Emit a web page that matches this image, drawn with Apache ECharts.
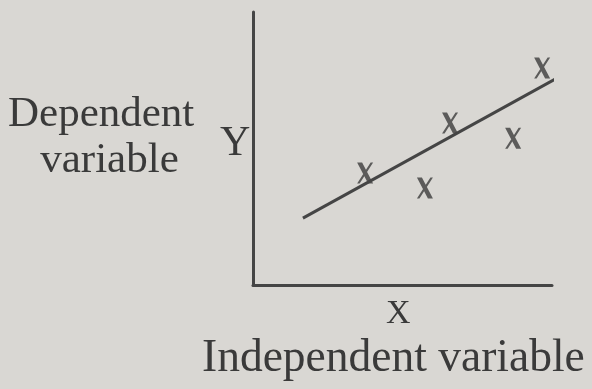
<!DOCTYPE html>
<html>
<head>
<meta charset="utf-8">
<script src="https://cdn.jsdelivr.net/npm/echarts@6/dist/echarts.min.js"></script>
<style>
  html, body { margin: 0; padding: 0; background: #d9d7d3; }
  #main { width: 592px; height: 389px; }
</style>
</head>
<body>
<div id="main"></div>
<script>
const pointX = [37.5, 57.5, 65.9, 87.0, 96.7]
const pointY = [41.0, 35.5, 59.3, 53.8, 79.5]
// fitted line end points
const lineX = [16.7, 102.3]
const lineY = [24.5, 76.2]

const ink = '#454545'
const font = '"Liberation Serif", "DejaVu Serif", serif'

const myChart = echarts.init(document.getElementById('main'))

const options = {
  backgroundColor: '#d9d7d3',
  animation: false,
  grid: {
    left: 253,
    top: 12,
    right: 40,
    bottom: 104
  },
  xAxis: {
    type: 'value',
    min: 0,
    max: 100,
    axisLine: { show: true, lineStyle: { color: ink, width: 3 } },
    axisTick: { show: false },
    axisLabel: { show: false },
    splitLine: { show: false }
  },
  yAxis: {
    type: 'value',
    min: 0,
    max: 100,
    axisLine: { show: true, lineStyle: { color: ink, width: 3 } },
    axisTick: { show: false },
    axisLabel: { show: false },
    splitLine: { show: false }
  },
  series: [
    {
      type: 'line',
      data: lineX.map((x, i) => [x, lineY[i]]),
      clip: false,
      showSymbol: false,
      lineStyle: { color: ink, width: 3 }
    },
    {
      type: 'scatter',
      data: pointX.map((x, i) => [x, pointY[i]]),
      // serif-like "x" mark: heavy and thin diagonals
      symbol: 'path://M0,0L5,0L16,21L11,21ZM13.5,0L16,0L2.5,21L0,21Z',
      symbolSize: [16, 21],
      itemStyle: { color: '#3c3c3c' }
    }
  ],
  graphic: [
    {
      type: 'text',
      left: 8,
      top: 92,
      style: {
        text: 'Dependent\n   variable',
        font: '43px ' + font,
        lineHeight: 46,
        fill: '#3a3a3a'
      }
    },
    {
      type: 'text',
      left: 220,
      top: 123,
      style: { text: 'Y', font: '42px ' + font, fill: '#3a3a3a' }
    },
    {
      type: 'text',
      left: 386,
      top: 297,
      style: { text: 'X', font: '34px ' + font, fill: '#3a3a3a' }
    },
    {
      type: 'text',
      left: 202,
      top: 336,
      style: { text: 'Independent variable', font: '45.5px ' + font, fill: '#3a3a3a' }
    }
  ]
}

myChart.setOption(options)
</script>
</body>
</html>
